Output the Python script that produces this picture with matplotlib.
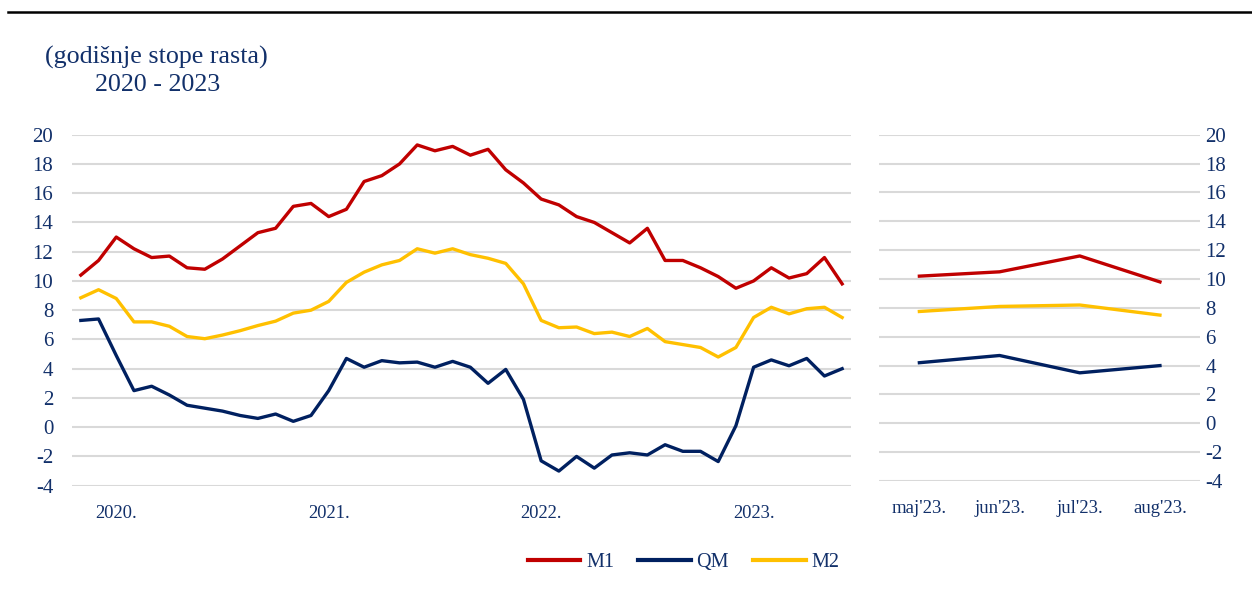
import numpy as np
import matplotlib.pyplot as plt
from matplotlib.lines import Line2D

# godisnje stope rasta, jan 2020 - aug 2023
m1 = [10.4, 11.4, 13.0, 12.2, 11.6, 11.7, 10.9, 10.8, 11.5, 12.4, 13.3, 13.6,
      15.1, 15.3, 14.4, 14.9, 16.8, 17.2, 18.0, 19.3, 18.9, 19.2, 18.6, 19.0,
      17.6, 16.7, 15.6, 15.2, 14.4, 14.0, 13.3, 12.6, 13.6, 11.4, 11.4, 10.9,
      10.3, 9.5, 10.0, 10.9, 10.2, 10.5, 11.6, 9.8]
qm = [7.3, 7.4, 4.9, 2.5, 2.8, 2.2, 1.5, 1.3, 1.1, 0.8, 0.6, 0.9,
      0.4, 0.8, 2.5, 4.7, 4.1, 4.55, 4.4, 4.45, 4.1, 4.5, 4.1, 3.0,
      3.95, 1.9, -2.3, -3.0, -2.0, -2.8, -1.9, -1.75, -1.9, -1.2, -1.65, -1.65,
      -2.35, 0.1, 4.1, 4.6, 4.2, 4.7, 3.5, 4.0]
m2 = [8.85, 9.4, 8.8, 7.2, 7.2, 6.9, 6.2, 6.05, 6.3, 6.6, 6.95, 7.25,
      7.8, 8.0, 8.6, 9.9, 10.6, 11.1, 11.4, 12.2, 11.9, 12.2, 11.8, 11.55,
      11.2, 9.8, 7.3, 6.8, 6.85, 6.4, 6.5, 6.2, 6.75, 5.85, 5.65, 5.45,
      4.8, 5.45, 7.5, 8.2, 7.75, 8.1, 8.2, 7.5]
year_labels = ['2020.', '2021.', '2022.', '2023.']
year_pos = [2, 14, 26, 38]
last_labels = ["maj'23.", "jun'23.", "jul'23.", "aug'23."]

c_m1 = '#C00000'
c_qm = '#002060'
c_m2 = '#FFC000'
txt = '#12306A'
grid_c = '#D9D9D9'

plt.rcParams['font.family'] = ['Liberation Serif', 'DejaVu Serif']
plt.rcParams['axes.unicode_minus'] = False

fig = plt.figure(figsize=(12.52, 5.90), dpi=100)

ax = fig.add_axes([0.0575, 0.1768, 0.6222, 0.5949])
ax2 = fig.add_axes([0.7023, 0.1847, 0.2562, 0.5869])

x = np.arange(len(m1))
ax.plot(x, m1, color=c_m1, lw=2.4)
ax.plot(x, m2, color=c_m2, lw=2.4)
ax.plot(x, qm, color=c_qm, lw=2.4)

x2 = np.arange(4)
ax2.plot(x2, m1[-4:], color=c_m1, lw=2.4)
ax2.plot(x2, m2[-4:], color=c_m2, lw=2.4)
ax2.plot(x2, qm[-4:], color=c_qm, lw=2.4)

for a in (ax, ax2):
    a.set_ylim(-4, 20)
    a.set_yticks(range(-4, 21, 2))
    a.grid(axis='y', color=grid_c, lw=1.5)
    a.set_axisbelow(True)
    for s in a.spines.values():
        s.set_visible(False)
    a.tick_params(length=0, labelsize=15, labelcolor=txt)

ax.set_xlim(-0.5, len(m1) - 0.5)
ax.set_xticks(year_pos)
ax.set_xticklabels(year_labels, fontsize=13.3)
ax.tick_params(axis='y', pad=13.5)
ax.tick_params(axis='x', pad=14)

ax2.set_xlim(-0.5, 3.5)
ax2.set_xticks(x2)
ax2.set_xticklabels(last_labels, fontsize=13.5)
ax2.yaxis.tick_right()
ax2.tick_params(axis='y', pad=4)
ax2.tick_params(axis='x', pad=14)

fig.text(0.036, 0.902, '(godišnje stope rasta)', fontsize=18.7, color=txt, va='center')
fig.text(0.076, 0.856, '2020 - 2023', fontsize=18.7, color=txt, va='center')

fig.add_artist(Line2D([0.006, 1.0], [0.979, 0.979], color='black', lw=1.8))

handles = [Line2D([], [], color=c_m1, lw=3),
           Line2D([], [], color=c_qm, lw=3),
           Line2D([], [], color=c_m2, lw=3)]
fig.legend(handles, ['M1', 'QM', 'M2'], loc='center', bbox_to_anchor=(0.546, 0.046),
           ncol=3, frameon=False, fontsize=14.5, labelcolor=txt,
           handlelength=2.6, handletextpad=0.3, columnspacing=1.2)

fig.savefig('out.png', dpi=100)
